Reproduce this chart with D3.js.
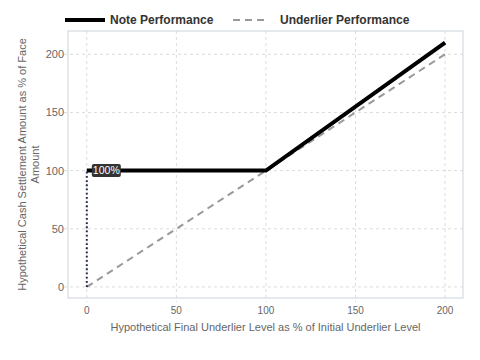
<!DOCTYPE html>
<html>
<head>
<meta charset="utf-8">
<script src="https://cdn.jsdelivr.net/npm/d3@7"></script>
<style>
  body { margin: 0; background: #fff; }
  svg { font-family: "Liberation Sans", Arial, sans-serif; }
</style>
</head>
<body>
<svg id="chart" width="480" height="360"></svg>
<script>
'use strict';

// chart data
var underlierLevels = [0, 100, 200];
var notePayoff = [100, 100, 210];
var underlierPayoff = [0, 100, 200];
var xTicks = [0, 50, 100, 150, 200];
var yTicks = [0, 50, 100, 150, 200];
var floorLevel = 100;
var floorLabel = "100%";

var width = 480, height = 360;
var box = {left: 68, right: 463, top: 31, bottom: 298};

var svg = d3.select("#chart");

var x = d3.scaleLinear().domain([-10.5, 210]).range([box.left, box.right]);
var y = d3.scaleLinear().domain([-9.5, 220]).range([box.bottom, box.top]);

// grid
svg.append("g").selectAll("line.gx")
    .data(xTicks).enter().append("line")
    .attr("x1", d => x(d)).attr("x2", d => x(d))
    .attr("y1", box.top).attr("y2", box.bottom + 4)
    .attr("stroke", "#dcdcdc").attr("stroke-dasharray", "3,3");

svg.append("g").selectAll("line.gy")
    .data(yTicks).enter().append("line")
    .attr("x1", box.left - 4).attr("x2", box.right)
    .attr("y1", d => y(d)).attr("y2", d => y(d))
    .attr("stroke", "#dcdcdc").attr("stroke-dasharray", "3,3");

// frame
svg.append("rect")
    .attr("x", box.left).attr("y", box.top)
    .attr("width", box.right - box.left).attr("height", box.bottom - box.top)
    .attr("fill", "none").attr("stroke", "#cdd3da");

// tick labels
svg.append("g").selectAll("text")
    .data(xTicks).enter().append("text")
    .attr("x", d => x(d)).attr("y", box.bottom + 16)
    .attr("text-anchor", "middle")
    .attr("font-size", "10px").attr("fill", "#666")
    .text(d => d);

svg.append("g").selectAll("text")
    .data(yTicks).enter().append("text")
    .attr("x", box.left - 4).attr("y", d => y(d) + 4)
    .attr("text-anchor", "end")
    .attr("font-size", "11px").attr("fill", "#666")
    .text(d => d);

// axis titles
svg.append("text")
    .attr("x", (box.left + box.right) / 2).attr("y", 331)
    .attr("text-anchor", "middle")
    .attr("font-size", "11px").attr("fill", "#666")
    .text("Hypothetical Final Underlier Level as % of Initial Underlier Level");

var yTitle = svg.append("text")
    .attr("transform", "translate(26," + ((box.top + box.bottom) / 2) + ") rotate(-90)")
    .attr("text-anchor", "middle")
    .attr("font-size", "11px").attr("fill", "#666");
yTitle.append("tspan").attr("x", 0).attr("dy", 0).text("Hypothetical Cash Settlement Amount as % of Face");
yTitle.append("tspan").attr("x", 0).attr("dy", 13).text("Amount");

// lines
var line = d3.line().x(d => x(d[0])).y(d => y(d[1]));

svg.append("path")
    .datum(underlierLevels.map((v, i) => [v, underlierPayoff[i]]))
    .attr("d", line)
    .attr("fill", "none").attr("stroke", "#999").attr("stroke-width", 2)
    .attr("stroke-dasharray", "7,5");

svg.append("path")
    .datum(underlierLevels.map((v, i) => [v, notePayoff[i]]))
    .attr("d", line)
    .attr("fill", "none").attr("stroke", "#000").attr("stroke-width", 4);

// dotted marker at floor
svg.append("line")
    .attr("x1", x(0)).attr("x2", x(0))
    .attr("y1", y(0)).attr("y2", y(floorLevel))
    .attr("stroke", "#1f2a4f").attr("stroke-width", 2)
    .attr("stroke-dasharray", "1.8,2.4");

var lbl = svg.append("g").attr("transform", "translate(" + (x(0) + 5) + "," + (y(floorLevel) - 6.5) + ")");
lbl.append("rect")
    .attr("width", 29).attr("height", 13).attr("rx", 2)
    .attr("fill", "#333");
lbl.append("text")
    .attr("x", 14.5).attr("y", 10)
    .attr("text-anchor", "middle")
    .attr("font-size", "10.5px").attr("fill", "#fff")
    .text(floorLabel);

// legend
var legend = svg.append("g");
legend.append("line")
    .attr("x1", 65).attr("x2", 105).attr("y1", 20).attr("y2", 20)
    .attr("stroke", "#000").attr("stroke-width", 4);
legend.append("text")
    .attr("x", 110).attr("y", 24)
    .attr("font-size", "12px").attr("font-weight", "bold").attr("fill", "#333")
    .text("Note Performance");
legend.append("line")
    .attr("x1", 233).attr("x2", 268).attr("y1", 20).attr("y2", 20)
    .attr("stroke", "#999").attr("stroke-width", 2)
    .attr("stroke-dasharray", "7,5");
legend.append("text")
    .attr("x", 280).attr("y", 24)
    .attr("font-size", "12px").attr("font-weight", "bold").attr("fill", "#333")
    .text("Underlier Performance");
</script>
</body>
</html>
